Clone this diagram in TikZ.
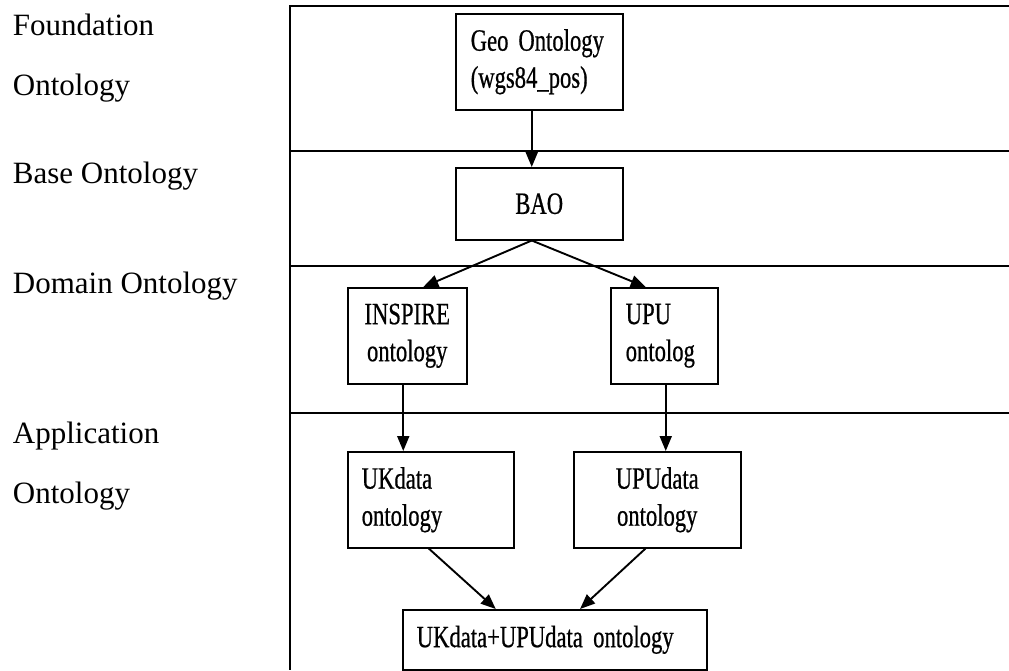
\documentclass[tikz,border=0pt]{standalone}
\usepackage{fontspec}
\setmainfont{Liberation Serif}
\newfontfamily\boxfont[FakeStretch=0.73,FakeBold=0.6]{Liberation Serif}
\usetikzlibrary{arrows.meta,calc}
\tikzset{
  frame/.style={line width=2pt},
  box/.style={draw, line width=1.5pt, anchor=north west, inner ysep=0pt,
    font=\boxfont\fontsize{31}{37}\selectfont},
  lbl/.style={inner sep=0pt, align=left, font=\fontsize{31}{60}\selectfont},
  arr/.style={line width=1.9pt, -{Triangle[length=15pt,width=12pt]}}
}
\begin{document}
\begin{tikzpicture}[x=1pt,y=-1pt]
\useasboundingbox (0,0) rectangle (1009,670);
% frame
\draw[frame] (1009,6) -- (290,6) -- (290,670);
\draw[frame] (290,151) -- (1009,151);
\draw[frame] (290,266) -- (1009,266);
\draw[frame] (290,413) -- (1009,413);
% left labels
\node[lbl, anchor=north west] (lf) at (12.7,13.8) {Foundation\\Ontology};
\node[lbl, anchor=base west] (lb) at (12.7,183) {Base Ontology};
\node[lbl, anchor=base west] (ld) at (12.7,293) {Domain Ontology};
\node[lbl, anchor=north west] (la) at (12.7,421.8) {Application\\Ontology};
% boxes
\node[box, minimum width=167pt, minimum height=96pt, inner xsep=15pt, text width=137pt, align=left] (geo) at (455,13) {\mbox{Geo\hspace{10pt}Ontology}\\(wgs84\_pos)};
\node[box, minimum width=167pt, minimum height=72pt, inner xsep=5pt, text width=157pt, align=center] (bao) at (455,167) {BAO};
\node[box, minimum width=119pt, minimum height=96pt, inner xsep=5pt, text width=109pt, align=center] (insp) at (347,287) {INSPIRE\\ontology};
\node[box, minimum width=107pt, minimum height=96pt, inner xsep=15pt, text width=77pt, align=left] (upu) at (610,287) {UPU\\ontolog};
\node[box, minimum width=166pt, minimum height=96pt, inner xsep=14pt, text width=138pt, align=left] (ukd) at (347,451) {UKdata\\ontology};
\node[box, minimum width=167pt, minimum height=96pt, inner xsep=5pt, text width=157pt, align=center] (upud) at (573,451) {UPUdata\\ontology};
\node[box, minimum width=304pt, minimum height=60pt, inner xsep=14pt, text width=276pt, align=left] (fin) at (402,609) {UKdata+UPUdata ontology};
% arrows
\draw[arr] ([xshift=-7.5pt]geo.south) -- ([xshift=-7.5pt]bao.north);
\draw[arr] ([xshift=-7.5pt]bao.south) -- ([xshift=16pt]insp.north);
\draw[arr] ([xshift=-7.5pt]bao.south) -- ([xshift=-18.5pt]upu.north);
\draw[arr] ([xshift=-4pt]insp.south) -- ([xshift=-4pt]insp.south |- ukd.north);
\draw[arr] ([xshift=1.5pt]upu.south) -- ([xshift=1.5pt]upu.south |- upud.north);
\draw[arr] ([xshift=-2pt]ukd.south) -- ([xshift=-59pt]fin.north);
\draw[arr] ([xshift=-11.7pt]upud.south) -- ([xshift=25.3pt]fin.north);
\end{tikzpicture}
\end{document}
